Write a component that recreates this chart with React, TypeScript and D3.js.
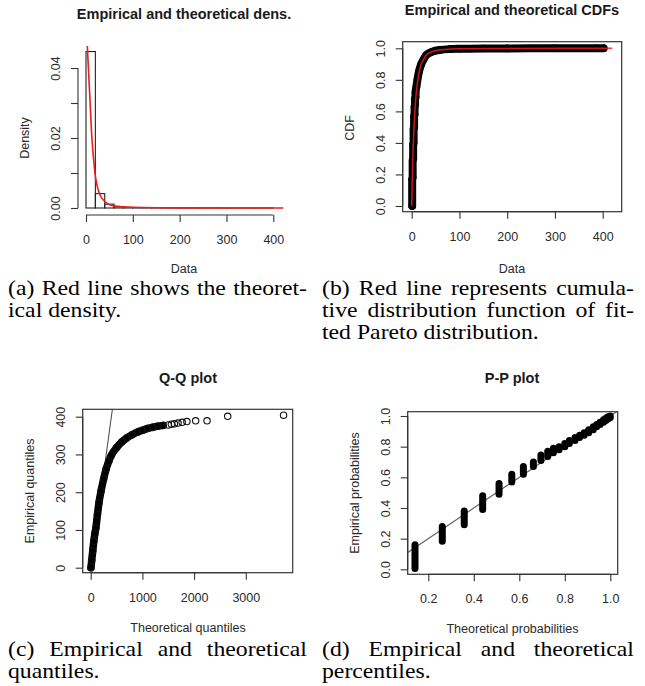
import React, { useRef, useEffect } from 'react';
import * as d3 from 'd3';

// (a) histogram: bin edges and densities, plus the fitted density
const histBreaks = [0, 20, 40, 60, 80, 100, 120, 140, 160, 180, 200, 220, 240, 260, 280, 300, 320, 340, 360, 380, 400];
const histDensity = [0.0447, 0.0041, 0.0011, 0.0004, 0.00015, 0.0001, 0.00006, 0.00004, 0.00003, 0.00002, 0.00002, 0.00001, 0.00001, 0.00001, 0.00001, 0.000005, 0.000005, 0.000005, 0.000003, 0.000005];
const densX = [2.8, 5, 8.5, 12, 15.7, 19.2, 24.2, 30, 40.6, 58.4, 101, 200, 421];
const densY = [0.0463, 0.0404, 0.0309, 0.0213, 0.0147, 0.0099, 0.0061, 0.0037, 0.0018, 0.0006, 0.0002, 0.00003, 0];

// (b) empirical CDF and fitted CDF
const ecdfX = [1, 1, 2, 2, 3, 3, 4, 4, 5, 5, 6, 6, 7, 7, 8, 8, 10, 12, 15, 20, 25, 30, 40, 50, 60, 80, 100, 150, 200, 300, 388, 402];
const ecdfY = [0, 0.17, 0.18, 0.29, 0.3, 0.39, 0.4, 0.49, 0.5, 0.57, 0.58, 0.63, 0.64, 0.68, 0.69, 0.72, 0.76, 0.8, 0.85, 0.9, 0.93, 0.955, 0.975, 0.985, 0.99, 0.995, 0.997, 0.999, 0.9995, 0.9998, 0.9999, 1];
const cdfX = [0, 1, 2, 3, 4, 5, 6, 7, 8, 9, 10, 12, 15, 20, 25, 30, 40, 50, 70, 100, 200, 420];
const cdfY = [0, 0.14, 0.26, 0.36, 0.44, 0.51, 0.57, 0.62, 0.66, 0.7, 0.73, 0.78, 0.84, 0.9, 0.93, 0.955, 0.975, 0.985, 0.993, 0.997, 0.9995, 1];

// (c) Q-Q: theoretical vs empirical quantiles
const qqTheo = [5, 20, 40, 60, 80, 100, 130, 160, 200, 250, 300, 350, 400, 500, 600, 700, 800, 900, 1000, 1100, 1200, 1300, 1400];
const qqEmp = [0, 20, 45, 70, 90, 105, 140, 172, 203, 235, 262, 282, 298, 318, 333, 344, 352, 359, 364, 369, 372, 375, 377];
const qqTailTheo = [1500, 1560, 1620, 1690, 1770, 1860, 2030, 2250, 2650, 3730];
const qqTailEmp = [378, 380, 381, 383, 385, 387, 389, 389, 401, 404];

// (d) P-P: each column of points at one theoretical probability
const ppTheo = [0.1415, 0.2615, 0.358, 0.439, 0.511, 0.567, 0.618, 0.662, 0.695, 0.725, 0.75, 0.775, 0.8, 0.82, 0.845, 0.865, 0.885, 0.905, 0.925, 0.94, 0.955, 0.97, 0.98, 0.99, 1.0];
const ppLow = [0.005, 0.183, 0.29, 0.39, 0.49, 0.57, 0.62, 0.67, 0.71, 0.735, 0.76, 0.78, 0.8, 0.82, 0.84, 0.86, 0.875, 0.89, 0.91, 0.93, 0.945, 0.96, 0.97, 0.98, 0.99];
const ppHigh = [0.16, 0.28, 0.38, 0.48, 0.56, 0.62, 0.67, 0.7, 0.745, 0.77, 0.79, 0.8, 0.82, 0.84, 0.86, 0.875, 0.89, 0.91, 0.93, 0.945, 0.96, 0.975, 0.985, 0.995, 1.0];

// ticks
const aXTicks = [0, 100, 200, 300, 400];
const aYTicks = [0, 0.01, 0.02, 0.03, 0.04];
const bXTicks = [0, 100, 200, 300, 400];
const probTicks = [0, 0.2, 0.4, 0.6, 0.8, 1.0];
const cXTicks = [0, 1000, 2000, 3000];
const cYTicks = [0, 100, 200, 300, 400];
const dXTicks = [0.2, 0.4, 0.6, 0.8, 1.0];

const capA = ['(a) Red line shows the theoret-', 'ical density.'];
const capB = ['(b) Red line represents cumula-', 'tive distribution function of fit-', 'ted Pareto distribution.'];
const capC = ['(c) Empirical and theoretical', 'quantiles.'];
const capD = ['(d) Empirical and theoretical', 'percentiles.'];

const SANS = '"Liberation Sans", Arial, Helvetica, sans-serif';
const SERIF = '"Liberation Serif", "Times New Roman", Times, serif';
const AX = '#333';
const TXT = '#2a2a2a';
const RED = '#ee1c1c';

const App = () => {
  const ref = useRef(null);

  useEffect(() => {
    const svg = d3.select(ref.current);
    svg.selectAll('*').remove();

    const xAxis = (x, y0, ticks, fmt) => {
      const g = svg.append('g')
        .attr('transform', `translate(0,${y0})`)
        .call(d3.axisBottom(x).tickValues(ticks).tickFormat(fmt).tickSize(7).tickSizeOuter(0));
      g.select('.domain').remove();
      g.attr('color', AX).attr('font-family', SANS).attr('font-size', 12.5);
      g.selectAll('line').attr('stroke-width', 1.1);
      g.append('line')
        .attr('x1', x(ticks[0])).attr('x2', x(ticks[ticks.length - 1]))
        .attr('stroke', AX).attr('stroke-width', 1.1);
      g.selectAll('text').attr('y', 29).attr('dy', null).attr('fill', TXT);
    };

    const yAxis = (y, x0, ticks, fmt) => {
      const g = svg.append('g')
        .attr('transform', `translate(${x0},0)`)
        .call(d3.axisLeft(y).tickValues(ticks).tickFormat(fmt).tickSize(7).tickSizeOuter(0));
      g.select('.domain').remove();
      g.attr('color', AX).attr('font-family', SANS).attr('font-size', 12.5);
      g.selectAll('line').attr('stroke-width', 1.1);
      g.append('line')
        .attr('y1', y(ticks[0])).attr('y2', y(ticks[ticks.length - 1]))
        .attr('stroke', AX).attr('stroke-width', 1.1);
      g.selectAll('text')
        .attr('x', null).attr('dy', null)
        .attr('text-anchor', 'middle')
        .attr('transform', 'translate(-18,0) rotate(-90)')
        .attr('fill', TXT);
    };

    const labels = (title, tx, ty, xl, xlx, xly, yl, ylx, yly) => {
      svg.append('text').attr('x', tx).attr('y', ty).attr('text-anchor', 'middle')
        .attr('font-family', SANS).attr('font-weight', 'bold').attr('font-size', 14.5)
        .attr('fill', '#1a1a1a').text(title);
      svg.append('text').attr('x', xlx).attr('y', xly).attr('text-anchor', 'middle')
        .attr('font-family', SANS).attr('font-size', 12.5).attr('fill', TXT).text(xl);
      svg.append('text').attr('transform', `translate(${ylx},${yly}) rotate(-90)`)
        .attr('text-anchor', 'middle')
        .attr('font-family', SANS).attr('font-size', 12.5).attr('fill', TXT).text(yl);
    };

    const box = (l, t, r, b) => {
      svg.append('rect').attr('x', l).attr('y', t).attr('width', r - l).attr('height', b - t)
        .attr('fill', 'none').attr('stroke', AX).attr('stroke-width', 1.2);
    };

    const clip = (id, l, t, r, b) => {
      svg.append('clipPath').attr('id', id).append('rect')
        .attr('x', l).attr('y', t).attr('width', r - l).attr('height', b - t);
    };

    // ---------- (a) density ----------
    const xa = d3.scaleLinear().domain([0, 400]).range([86, 273.3]);
    const ya = d3.scaleLinear().domain([0, 0.04]).range([208, 68]);
    svg.append('g').selectAll('rect').data(histDensity).join('rect')
      .attr('x', (d, i) => xa(histBreaks[i]))
      .attr('width', (d, i) => xa(histBreaks[i + 1] ?? histBreaks[i] + 20) - xa(histBreaks[i]))
      .attr('y', d => ya(d))
      .attr('height', d => ya(0) - ya(d))
      .attr('fill', 'none').attr('stroke', '#222').attr('stroke-width', 1.1);
    svg.append('path')
      .datum(densX.map((v, i) => [v, densY[i]]))
      .attr('fill', 'none').attr('stroke', RED).attr('stroke-width', 1.6)
      .attr('d', d3.line().x(d => xa(d[0])).y(d => ya(d[1])).curve(d3.curveMonotoneX));
    xAxis(xa, 215, aXTicks, d => String(d));
    yAxis(ya, 78, aYTicks, (d, i) => (i % 2 === 0 ? d3.format('.2f')(d) : ''));
    labels('Empirical and theoretical dens.', 184, 19, 'Data', 184, 273, 'Density', 29, 138);

    // ---------- (b) CDF ----------
    const xb = d3.scaleLinear().domain([0, 400]).range([411.7, 602.7]);
    const yb = d3.scaleLinear().domain([0, 1]).range([206, 48.3]);
    const ecdf = ecdfX.map((v, i) => [v, ecdfY[i]]);
    svg.append('path').datum(ecdf)
      .attr('fill', 'none').attr('stroke', '#000').attr('stroke-width', 8)
      .attr('stroke-linejoin', 'round').attr('stroke-linecap', 'round')
      .attr('d', d3.line().x(d => xb(d[0])).y(d => yb(d[1])).curve(d3.curveMonotoneX));
    svg.append('g').selectAll('circle').data(ecdf).join('circle')
      .attr('cx', d => xb(d[0])).attr('cy', d => yb(d[1])).attr('r', 3.2)
      .attr('fill', 'none').attr('stroke', '#000').attr('stroke-width', 1.2);
    svg.append('path')
      .datum(cdfX.map((v, i) => [v, cdfY[i]]))
      .attr('fill', 'none').attr('stroke', RED).attr('stroke-width', 1.5).attr('opacity', 0.85)
      .attr('d', d3.line().x(d => xb(d[0])).y(d => yb(d[1])).curve(d3.curveMonotoneX));
    box(402.7, 41.7, 621.7, 211.7);
    xAxis(xb, 211.7, bXTicks, d => String(d));
    yAxis(yb, 402.7, probTicks, d3.format('.1f'));
    labels('Empirical and theoretical CDFs', 512, 15, 'Data', 512, 273, 'CDF', 354, 128);

    // ---------- (c) Q-Q ----------
    const xc = d3.scaleLinear().domain([0, 3000]).range([90.7, 245.8]);
    const yc = d3.scaleLinear().domain([0, 400]).range([567.7, 416.7]);
    clip('clipC', 82.7, 409.3, 292.7, 572.7);
    svg.append('line')
      .attr('clip-path', 'url(#clipC)')
      .attr('x1', xc(0)).attr('y1', yc(0)).attr('x2', xc(450)).attr('y2', yc(450))
      .attr('stroke', '#444').attr('stroke-width', 1);
    const qq = qqTheo.map((v, i) => [v, qqEmp[i]]);
    svg.append('path').datum(qq)
      .attr('fill', 'none').attr('stroke', '#000').attr('stroke-width', 7.5)
      .attr('stroke-linejoin', 'round').attr('stroke-linecap', 'round')
      .attr('d', d3.line().x(d => xc(d[0])).y(d => yc(d[1])).curve(d3.curveMonotoneX));
    svg.append('g').selectAll('circle')
      .data(qq.concat(qqTailTheo.map((v, i) => [v, qqTailEmp[i]])))
      .join('circle')
      .attr('cx', d => xc(d[0])).attr('cy', d => yc(d[1])).attr('r', 3.2)
      .attr('fill', 'none').attr('stroke', '#111').attr('stroke-width', 1.1);
    box(82.7, 409.3, 292.7, 572.7);
    xAxis(xc, 572.7, cXTicks, d => String(d));
    yAxis(yc, 82.7, cYTicks, d => String(d));
    labels('Q-Q plot', 188, 383, 'Theoretical quantiles', 188, 631.5, 'Empirical quantiles', 34, 491);

    // ---------- (d) P-P ----------
    const xd = d3.scaleLinear().domain([0.2, 1.0]).range([428.3, 610.3]);
    const yd = d3.scaleLinear().domain([0, 1]).range([569.3, 416]);
    clip('clipD', 407.7, 411.7, 617.7, 574.3);
    svg.append('line')
      .attr('clip-path', 'url(#clipD)')
      .attr('x1', xd(0)).attr('y1', yd(0)).attr('x2', xd(1.1)).attr('y2', yd(1.1))
      .attr('stroke', '#666').attr('stroke-width', 1.2);
    svg.append('g').selectAll('line').data(ppTheo).join('line')
      .attr('x1', d => xd(d)).attr('x2', d => xd(d))
      .attr('y1', (d, i) => yd(ppLow[i])).attr('y2', (d, i) => yd(ppHigh[i]))
      .attr('stroke', '#000').attr('stroke-width', 7).attr('stroke-linecap', 'round');
    box(407.7, 411.7, 617.7, 574.3);
    xAxis(xd, 574.3, dXTicks, d3.format('.1f'));
    yAxis(yd, 407.7, probTicks, d3.format('.1f'));
    labels('P-P plot', 512, 383, 'Theoretical probabilities', 512.5, 633, 'Empirical probabilities', 359, 493);

    // ---------- captions (justified, glyphs a bit wide as in the scanned paper) ----------
    const SX = 1.13;
    const caption = (lines, left, right, top) => {
      const g = svg.append('g').attr('font-family', SERIF).attr('font-size', 21).attr('fill', '#000');
      const sp = g.append('text').text('a a');
      const sp2 = g.append('text').text('aa');
      const spaceW = (sp.node().getComputedTextLength() - sp2.node().getComputedTextLength()) * SX;
      sp.remove(); sp2.remove();
      lines.forEach((line, i) => {
        const y = top + i * 22;
        const words = line.split(' ');
        const nodes = words.map(w => g.append('text').text(w));
        const widths = nodes.map(n => n.node().getComputedTextLength() * SX);
        const last = i === lines.length - 1;
        const gap = last ? spaceW : (right - left - d3.sum(widths)) / (words.length - 1);
        let x = left;
        nodes.forEach((n, k) => {
          n.attr('transform', `translate(${x},${y}) scale(${SX},1)`);
          x += widths[k] + gap;
        });
      });
    };
    caption(capA, 8, 307, 295);
    caption(capB, 322, 634, 295);
    caption(capC, 8, 307, 656);
    caption(capD, 322, 634, 656);
  }, []);

  return <svg ref={ref} width={645} height={686} style={{ display: 'block', position: 'absolute', left: 0, top: 0 }} />;
};

export default App;
